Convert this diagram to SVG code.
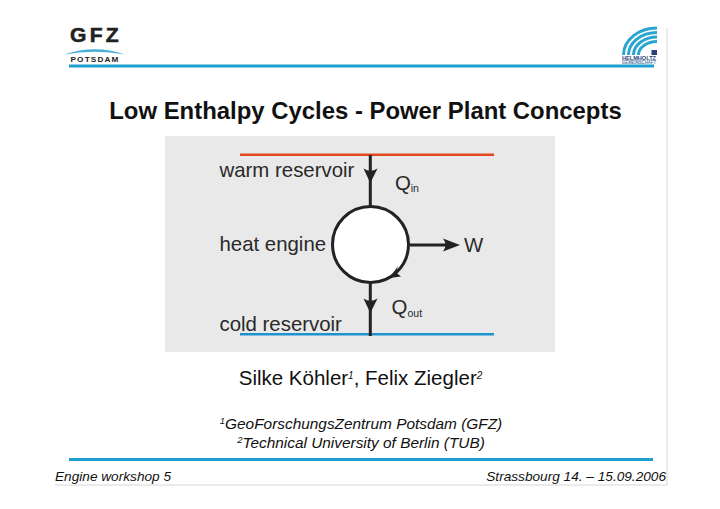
<svg xmlns="http://www.w3.org/2000/svg" width="720" height="509" viewBox="0 0 720 509">
<defs>
<style>
text{font-family:"Liberation Sans",Arial,sans-serif;fill:#1a1a1a}
.d{font-size:20.4px;fill:#2a2a2a}
.s{font-size:10.5px;fill:#2a2a2a}
.i{font-style:italic;font-size:15.4px;fill:#111}
.f{font-style:italic;font-size:13.65px;fill:#111}
.w{stroke:#222;stroke-width:3;fill:none}
.a{fill:#222;stroke:none}
.arc{fill:none;stroke:#2aa5cf;stroke-width:3}
</style>
</defs>
<rect width="720" height="509" fill="#fff"/>
<g id="frame">
<path d="M667 28V485H55" fill="none" stroke="#d6d6d6" stroke-width="1"/>
<rect x="69" y="64.500" width="585" height="3" fill="#1f9fd0"/>
<rect x="69" y="458" width="584" height="3" fill="#1f9fd0"/>
</g>
<g id="gfz-logo">
<text x="70" y="42" textLength="52" lengthAdjust="spacingAndGlyphs" style="font-size:19.500px;font-weight:bold;letter-spacing:3px;fill:#222;stroke:#222;stroke-width:.5">GFZ</text>
<path d="M64 54.500Q95 44 125 54.500Q95 49 64 54.500Z" fill="#4bb0d8"/>
<text x="70.500" y="62" textLength="49" lengthAdjust="spacingAndGlyphs" style="font-size:7px;font-weight:bold;letter-spacing:1px;fill:#222">POTSDAM</text>
</g>
<g id="helmholtz-logo">
<path class="arc" d="M623.500 55A33.500 27 0 0 1 657 28"/>
<path class="arc" d="M628.500 55A28.500 22.500 0 0 1 657 32.500"/>
<path class="arc" d="M633.500 55A23.500 18 0 0 1 657 37"/>
<path class="arc" d="M638.500 55A18.500 13.500 0 0 1 657 41.500"/>
<rect x="651.500" y="50" width="5.500" height="5" fill="#2b3f7c"/>
<text x="622" y="59.500" textLength="34" lengthAdjust="spacingAndGlyphs" style="font-size:5.500px;font-weight:bold;fill:#2b3f7c">HELMHOLTZ</text>
<text x="622" y="64.300" textLength="34" lengthAdjust="spacingAndGlyphs" style="font-size:4.600px;font-weight:bold;fill:#5a7aa8">GEMEINSCHAFT</text>
</g>
<g id="title"><text x="365.500" y="118.500" text-anchor="middle" style="font-size:23.900px;font-weight:bold;fill:#111">Low Enthalpy Cycles - Power Plant Concepts</text></g>
<rect id="panel" x="165" y="136" width="390" height="216" fill="#e9e9e9"/>
<g id="reservoir-lines">
<rect x="240" y="153.500" width="254" height="2.500" fill="#e2491f"/>
<rect x="240" y="333" width="254" height="2.500" fill="#1f93d0"/>
</g>
<g id="connectors">
<path class="w" d="M370.300 155V207M370.300 282V336M410 245H450"/>
<path class="a" d="M363.500 168.500Q370.300 173 377.500 168.500L370.300 183ZM363.500 298.500Q370.300 303 377.500 298.500L370.300 313ZM443 238.500Q448 245 443 251.500L460 245Z"/>
</g>
<g id="warm-reservoir"><text class="d" x="219.500" y="177">warm reservoir</text></g>
<g id="heat-engine">
<text class="d" x="219.500" y="251">heat engine</text>
<circle cx="370.500" cy="244.500" r="38" fill="#fff" stroke="#222" stroke-width="3"/>
<path class="a" d="M389.500 278L398 266L396 272.500L401 276.500Z"/>
</g>
<g id="cold-reservoir"><text class="d" x="219.500" y="331">cold reservoir</text></g>
<g id="q-in"><text class="d" x="395" y="189.500">Q</text><text class="s" x="410.700" y="192">in</text></g>
<g id="q-out"><text class="d" x="391.500" y="314">Q</text><text class="s" x="407.500" y="317">out</text></g>
<g id="w"><text class="d" x="464" y="252">W</text></g>
<g id="authors">
<text x="360.500" y="384.500" text-anchor="middle" style="font-size:20.500px;fill:#111">Silke Köhler<tspan style="font-size:10px;font-style:italic" dy="-6">1</tspan><tspan dy="6">, Felix Ziegler</tspan><tspan style="font-size:10px;font-style:italic" dy="-6">2</tspan></text>
</g>
<g id="affiliations">
<text class="i" x="361" y="429" text-anchor="middle"><tspan style="font-size:9.500px" dy="-5">1</tspan><tspan dy="5">GeoForschungsZentrum Potsdam (GFZ)</tspan></text>
<text class="i" x="361" y="448" text-anchor="middle"><tspan style="font-size:9.500px" dy="-5">2</tspan><tspan dy="5">Technical University of Berlin (TUB)</tspan></text>
</g>
<g id="footer">
<text class="f" x="55" y="481">Engine workshop 5</text>
<text class="f" x="666" y="481" text-anchor="end">Strassbourg 14. – 15.09.2006</text>
</g>
</svg>
